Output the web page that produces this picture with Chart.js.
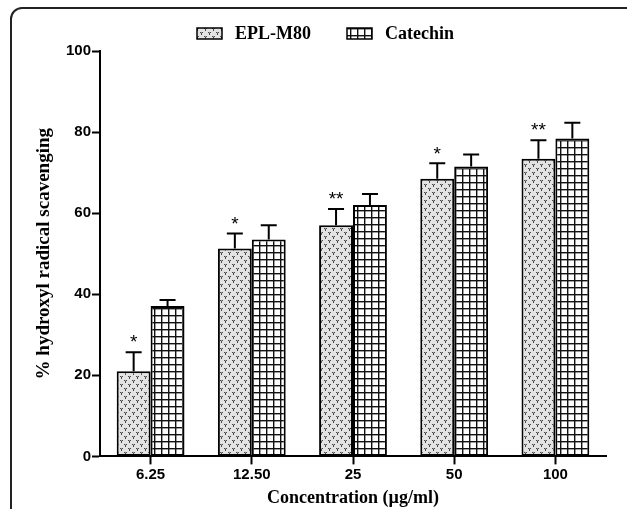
<!DOCTYPE html>
<html>
<head>
<meta charset="utf-8">
<script src="https://cdn.jsdelivr.net/npm/chart.js@4.4.1/dist/chart.umd.min.js"></script>
<style>
  html, body { margin: 0; padding: 0; background: #fff; }
  #wrap { width: 627px; height: 509px; position: relative; }
</style>
</head>
<body>
<div id="wrap"><canvas id="scavChart"></canvas></div>
<script>
// Data
const concentrations = ['6.25', '12.50', '25', '50', '100'];
const eplValues = [21.0, 51.3, 57.0, 68.5, 73.4];
const eplErrors = [4.7, 3.7, 4.0, 3.8, 4.6];
const catechinValues = [37.1, 53.5, 62.0, 71.5, 78.4];
const catechinErrors = [1.5, 3.5, 2.7, 3.0, 3.9];
const eplStars = ['*', '*', '**', '*', '**'];
const yTicks = [0, 20, 40, 60, 80, 100];

// Fill patterns
function makeDotPattern() {
    const c = document.createElement('canvas');
    c.width = 8; c.height = 8;
    const g = c.getContext('2d');
    g.fillStyle = '#e3e3e3';
    g.fillRect(0, 0, 8, 8);
    g.fillStyle = '#4a4a4a';
    // little "v" marks, staggered
    g.fillRect(0, 0, 1, 1); g.fillRect(2, 0, 1, 1); g.fillRect(1, 1, 1, 2);
    g.fillRect(4, 4, 1, 1); g.fillRect(6, 4, 1, 1); g.fillRect(5, 5, 1, 2);
    g.fillStyle = '#999';
    g.fillRect(1, 0, 1, 1); g.fillRect(5, 4, 1, 1);
    return g.createPattern(c, 'repeat');
}
function makeGridPattern() {
    const c = document.createElement('canvas');
    c.width = 7; c.height = 7;
    const g = c.getContext('2d');
    g.fillStyle = '#ffffff';
    g.fillRect(0, 0, 7, 7);
    g.fillStyle = '#111';
    g.fillRect(0, 0, 7, 1.4);
    g.fillRect(0, 0, 1.4, 7);
    return g.createPattern(c, 'repeat');
}
const dotFill = makeDotPattern();
const gridFill = makeGridPattern();

// Error bars + significance marks, legend and outer frame
const decorations = {
    id: 'decorations',
    afterDatasetsDraw(chart) {
        const ctx = chart.ctx;
        const y = chart.scales.y;
        const sets = [[eplValues, eplErrors], [catechinValues, catechinErrors]];
        ctx.save();
        ctx.strokeStyle = '#000';
        ctx.lineWidth = 2;
        sets.forEach((s, di) => {
            const meta = chart.getDatasetMeta(di);
            meta.data.forEach((bar, i) => {
                const top = y.getPixelForValue(s[0][i]);
                const errY = y.getPixelForValue(s[0][i] + s[1][i]);
                ctx.beginPath();
                ctx.moveTo(bar.x, top);
                ctx.lineTo(bar.x, errY);
                ctx.moveTo(bar.x - 8, errY);
                ctx.lineTo(bar.x + 8, errY);
                ctx.stroke();
                if (di === 0) {
                    ctx.fillStyle = '#000';
                    ctx.font = '19px "Liberation Sans"';
                    ctx.textAlign = 'center';
                    ctx.textBaseline = 'middle';
                    ctx.fillText(eplStars[i], bar.x, errY - 9);
                }
            });
        });
        ctx.restore();
    },
    afterDraw(chart) {
        const ctx = chart.ctx;
        ctx.save();
        // frame
        ctx.strokeStyle = '#222';
        ctx.lineWidth = 2;
        ctx.beginPath();
        ctx.moveTo(11, 520);
        ctx.lineTo(11, 19);
        ctx.arcTo(11, 8, 22, 8, 11);
        ctx.lineTo(640, 8);
        ctx.stroke();
        // legend
        const items = [
            { label: 'EPL-M80', fill: dotFill, x: 197 },
            { label: 'Catechin', fill: gridFill, x: 347 }
        ];
        ctx.font = 'bold 18px "Liberation Serif"';
        ctx.textBaseline = 'middle';
        ctx.textAlign = 'left';
        items.forEach(it => {
            ctx.fillStyle = it.fill;
            ctx.fillRect(it.x, 28, 25, 11);
            ctx.lineWidth = 1.5;
            ctx.strokeStyle = '#000';
            ctx.strokeRect(it.x, 28, 25, 11);
            ctx.fillStyle = '#000';
            ctx.fillText(it.label, it.x + 38, 34);
        });
        ctx.restore();
    }
};

const chartCtx = document.getElementById('scavChart').getContext('2d');
new Chart(chartCtx, {
    type: 'bar',
    data: {
        labels: concentrations,
        datasets: [{
            label: 'EPL-M80',
            data: eplValues,
            backgroundColor: dotFill,
            borderColor: '#000',
            borderWidth: 2,
            borderSkipped: false
        }, {
            label: 'Catechin',
            data: catechinValues,
            backgroundColor: gridFill,
            borderColor: '#000',
            borderWidth: 2,
            borderSkipped: false
        }]
    },
    options: {
        responsive: true,
        maintainAspectRatio: false,
        animation: false,
        events: [],
        layout: {
            padding: { left: 18, right: 21, top: 51, bottom: 0 }
        },
        plugins: {
            legend: { display: false },
            tooltip: { enabled: false }
        },
        datasets: {
            bar: { categoryPercentage: 0.67, barPercentage: 1.0 }
        },
        scales: {
            x: {
                border: { display: true, color: '#000', width: 2 },
                grid: { display: true, offset: false, drawOnChartArea: false, drawTicks: true, tickLength: 8, tickColor: '#000', tickWidth: 2 },
                ticks: {
                    color: '#000',
                    padding: 1,
                    font: { family: '"Liberation Sans"', weight: 'bold', size: 15 }
                },
                title: {
                    display: true,
                    text: 'Concentration (\u00b5g/ml)',
                    color: '#000',
                    padding: { top: 3, bottom: 0 },
                    font: { family: '"Liberation Serif"', weight: 'bold', size: 18 }
                }
            },
            y: {
                min: 0,
                max: 100,
                afterFit(scale) { scale.width = 82; },
                afterBuildTicks(scale) { scale.ticks = yTicks.map(v => ({ value: v })); },
                border: { display: true, color: '#000', width: 2 },
                grid: { display: true, drawOnChartArea: false, drawTicks: true, tickLength: 8, tickColor: '#000', tickWidth: 2 },
                ticks: {
                    color: '#000',
                    padding: 1,
                    font: { family: '"Liberation Sans"', weight: 'bold', size: 15 }
                },
                title: {
                    display: true,
                    text: '% hydroxyl radical scavenging',
                    color: '#000',
                    padding: { top: 15, bottom: 0 },
                    font: { family: '"Liberation Serif"', weight: 'bold', size: 19 }
                }
            }
        }
    },
    plugins: [decorations]
});
</script>
</body>
</html>
